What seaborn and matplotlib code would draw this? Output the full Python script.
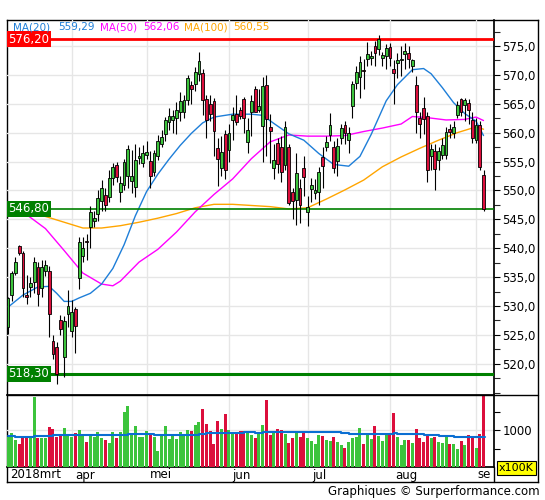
import numpy as np
import pandas as pd
import seaborn as sns
import matplotlib.pyplot as plt
from matplotlib.lines import Line2D
from matplotlib.ticker import FuncFormatter, MultipleLocator, FixedLocator

# daily candles (index 0 = early March 2018)
opens = [526.4, 531.9, 535.7, 540.4, 539.1, 531.9, 533.3, 534.1, 536.8, 533.1,
         536.0, 536.0, 523.9, 522.9, 527.5, 521.2, 528.6, 525.7, 529.5, 534.9,
         538.6, 541.2, 543.7, 544.7, 545.9, 548.2, 549.2, 548.9, 552.1, 554.4,
         549.7, 550.9, 552.5, 551.7, 550.6, 555.6, 554.8, 556.1, 555.1, 553.2,
         556.0, 558.0, 559.8, 561.9, 562.2, 562.6, 563.6, 563.5, 565.6, 568.2,
         568.5, 570.1, 570.4, 565.9, 565.0, 565.5, 557.4, 553.8, 559.7, 557.0,
         562.2, 563.2, 563.9, 565.8, 558.4, 563.6, 567.5, 564.0, 561.2, 568.2,
         561.0, 553.8, 558.2, 557.5, 554.4, 557.5, 549.7, 548.3, 550.4, 553.8,
         546.2, 550.2, 549.5, 549.8, 555.8, 557.6, 559.6, 557.5, 555.1, 559.0,
         561.4, 558.8, 564.6, 568.6, 569.7, 570.9, 572.7, 572.9, 575.0, 574.4,
         572.9, 573.3, 574.9, 571.0, 572.0, 572.5, 573.6, 573.8, 571.5, 568.2,
         562.5, 564.2, 562.9, 556.0, 556.9, 555.2, 556.1, 556.1, 560.6, 560.0,
         563.1, 565.8, 564.8, 565.2, 562.2, 558.8, 561.3, 552.7]
highs = [531.6, 536.0, 538.5, 540.6, 539.5, 535.4, 535.0, 538.5, 537.6, 538.0,
         537.9, 536.9, 525.0, 523.8, 528.5, 528.2, 532.8, 531.0, 529.9, 542.0,
         542.0, 542.5, 547.3, 546.5, 550.0, 551.8, 550.5, 553.5, 554.7, 555.0,
         552.5, 555.5, 557.8, 557.0, 558.0, 557.5, 557.9, 558.6, 556.9, 557.0,
         559.6, 560.5, 562.7, 564.2, 564.0, 565.3, 567.0, 566.5, 569.9, 569.0,
         571.4, 573.9, 571.0, 566.5, 566.5, 566.0, 559.0, 559.5, 560.5, 561.5,
         564.5, 566.5, 564.5, 566.2, 562.5, 566.5, 568.0, 567.5, 569.6, 570.0,
         563.2, 558.0, 559.0, 559.5, 562.0, 558.0, 550.5, 556.5, 552.0, 556.0,
         549.0, 552.2, 552.0, 554.0, 557.5, 559.5, 563.4, 558.5, 559.0, 561.5,
         562.0, 561.0, 569.0, 571.5, 573.2, 572.8, 575.7, 574.1, 575.8, 576.9,
         574.0, 575.3, 575.5, 572.5, 573.8, 575.0, 575.5, 575.0, 572.8, 569.8,
         563.5, 566.2, 563.5, 558.0, 558.0, 557.5, 559.0, 561.0, 561.5, 562.0,
         565.5, 566.0, 566.0, 565.8, 563.5, 562.5, 562.0, 553.5]
lows = [525.2, 530.9, 535.4, 538.8, 531.6, 530.4, 531.5, 532.2, 530.0, 531.6,
        535.2, 524.7, 520.8, 516.5, 525.0, 517.8, 526.4, 524.7, 521.8, 533.0,
        537.7, 538.0, 540.0, 543.6, 544.7, 546.5, 546.5, 548.0, 551.0, 551.5,
        548.0, 550.0, 550.4, 549.5, 548.8, 554.5, 554.0, 555.5, 550.4, 552.5,
        555.2, 557.5, 558.6, 560.5, 560.0, 559.7, 562.0, 562.5, 564.8, 565.0,
        567.2, 569.0, 563.0, 559.0, 562.0, 556.0, 550.7, 552.5, 551.9, 555.0,
        558.7, 561.3, 562.3, 560.0, 556.4, 559.5, 564.5, 563.5, 555.0, 556.0,
        554.8, 552.0, 553.0, 551.5, 553.5, 547.5, 545.0, 544.0, 544.4, 549.0,
        543.9, 548.0, 548.5, 547.5, 550.5, 556.8, 558.5, 553.0, 552.5, 558.0,
        558.0, 556.5, 562.5, 567.5, 566.0, 567.5, 571.5, 571.7, 571.6, 573.5,
        571.5, 571.0, 571.5, 565.0, 569.5, 569.8, 571.0, 571.2, 570.5, 560.0,
        559.0, 559.7, 551.5, 553.5, 550.0, 553.5, 555.5, 555.5, 559.0, 559.0,
        562.5, 562.8, 562.0, 561.5, 558.2, 558.2, 553.5, 546.4]
closes = [531.4, 535.7, 537.6, 539.1, 533.1, 531.5, 534.0, 537.6, 532.1, 536.7,
          537.1, 528.7, 521.7, 518.3, 526.1, 527.4, 530.0, 529.0, 526.5, 541.1,
          540.0, 541.0, 546.2, 545.2, 548.7, 550.5, 547.5, 552.1, 554.1, 552.4,
          551.3, 554.9, 557.2, 552.5, 555.3, 555.9, 556.4, 556.7, 552.5, 556.4,
          558.6, 559.2, 562.2, 562.9, 562.9, 564.0, 565.4, 565.6, 569.4, 567.5,
          570.5, 572.4, 565.6, 562.2, 563.2, 560.3, 555.5, 556.7, 553.5, 559.9,
          563.0, 561.9, 562.8, 562.6, 560.5, 565.5, 563.5, 564.6, 568.1, 562.3,
          560.3, 555.3, 554.5, 553.2, 560.9, 547.8, 548.1, 553.0, 547.5, 552.4,
          547.2, 551.0, 550.1, 553.2, 554.2, 558.4, 561.3, 553.8, 557.7, 560.8,
          559.9, 559.9, 568.5, 570.5, 572.3, 570.6, 573.7, 573.3, 573.8, 576.2,
          573.5, 574.6, 573.0, 570.3, 572.6, 572.8, 574.2, 572.7, 572.6, 563.5,
          561.5, 562.3, 553.5, 557.2, 553.7, 556.9, 557.9, 560.1, 560.1, 561.0,
          564.8, 563.5, 565.6, 563.9, 559.0, 561.3, 554.1, 546.8]
volumes = [810, 918, 729, 621, 837, 837, 801, 1890, 783, 783,
           783, 1080, 1026, 810, 855, 1053, 873, 810, 918, 999,
           855, 675, 891, 810, 945, 783, 729, 648, 945, 783,
           945, 1485, 1647, 918, 1107, 810, 810, 972, 891, 810,
           432, 837, 1107, 756, 837, 756, 945, 891, 999, 972,
           1134, 1215, 1566, 1161, 972, 621, 1242, 1026, 1431, 999,
           918, 945, 972, 963, 963, 864, 783, 918, 1134, 1809,
           864, 963, 1026, 999, 891, 648, 783, 945, 810, 972,
           783, 702, 621, 864, 837, 729, 702, 810, 675, 594,
           513, 675, 783, 810, 1053, 621, 891, 756, 1107, 837,
           702, 918, 891, 1458, 810, 594, 729, 729, 648, 1026,
           783, 675, 837, 783, 810, 675, 648, 837, 621, 621,
           486, 702, 594, 864, 810, 513, 891, 1950]

# moving averages
ma20_x = [0, 4, 8, 11, 13, 15, 17, 19, 22, 25, 28, 31, 34, 37, 40, 43, 46, 49, 52, 55,
          60, 65, 68, 71, 75, 79, 83, 87, 91, 94, 97, 101, 104, 108, 111, 113, 116,
          119, 122, 125, 127]
ma20_y = [529.8, 531.9, 533.3, 533.4, 532.2, 530.8, 530.8, 531.4, 532.2, 533.8, 536.5,
          540.6, 545.6, 549.8, 552.8, 555.4, 557.8, 559.9, 561.7, 562.7, 563.2, 563.2,
          563.0, 561.6, 559.8, 558.7, 556.4, 554.5, 554.2, 555.9, 559.7, 565.5, 568.3,
          570.9, 571.1, 570.2, 567.8, 565.2, 563.3, 562.0, 559.5]
ma50_x = [0, 5, 10, 15, 20, 25, 28, 30, 35, 40, 45, 50, 55, 60, 65, 70, 75, 80, 85, 90,
          95, 100, 105, 108, 112, 117, 122, 125, 127]
ma50_y = [546.7, 545.8, 543.4, 539.6, 535.7, 533.8, 533.5, 534.3, 537.6, 539.8, 542.8,
          546.3, 549.3, 552.0, 555.5, 558.4, 559.6, 559.4, 559.4, 559.5, 560.2, 560.8,
          561.5, 562.8, 562.6, 562.2, 562.3, 562.7, 562.1]
ma100_x = [0, 5, 10, 15, 20, 25, 30, 35, 40, 45, 50, 55, 60, 65, 70, 75, 80, 85, 90, 95,
           100, 105, 110, 115, 120, 125, 127]
ma100_y = [546.6, 546.1, 545.5, 544.5, 543.5, 543.5, 543.9, 544.5, 545.2, 546.0, 547.0,
           547.6, 547.6, 547.4, 547.2, 546.8, 547.0, 548.5, 550.1, 551.8, 554.1, 555.8,
           557.3, 558.7, 560.0, 561.0, 560.6]
vma_x = [0, 2, 7, 12, 32, 39, 51, 53, 63, 66, 68, 89, 91, 103, 104, 111, 115, 119, 127.5]
vma_y = [828, 801, 828, 855, 882, 855, 882, 909, 936, 909, 936, 909, 882, 909, 882, 855,
         828, 810, 810]

month_labels = ["2018mrt", "apr", "mei", "jun", "jul", "aug", "se"]
month_start = [17, 37, 59, 80, 102, 125]
level_hi = 576.20
level_last = 546.80
level_lo = 518.30

GREEN = "#3cc43c"
RED = "#dc0f3c"

df = pd.DataFrame({"o": opens, "h": highs, "l": lows, "c": closes, "v": volumes})
df["i"] = np.arange(len(df))
df["dir"] = np.where(df["c"] >= df["o"], "up", "down")
df["col"] = np.where(df["dir"] == "up", GREEN, RED)

sns.set_theme(style="white")
plt.rcParams["font.family"] = ["DejaVu Sans"]

W, H = 545, 500
fig = plt.figure(figsize=(W / 100, H / 100), dpi=100)


def fx(px):
    return px / W


def fy(py):
    return 1 - py / H


# outer frame
frame = fig.add_axes([fx(7), fy(482), fx(531), 462 / H])
frame.set_xticks([])
frame.set_yticks([])
for s in frame.spines.values():
    s.set_color("black")
    s.set_linewidth(1)
frame.spines["top"].set_linestyle((0, (2, 1)))

# price panel
ax = fig.add_axes([fx(7), fy(395), fx(487), 375 / H])
ax.patch.set_alpha(0)
ax.set_xlim(-0.27, 129.8)
ax.set_ylim(514.6, 579.5)
ax.xaxis.set_major_locator(FixedLocator(month_start))
ax.set_xticklabels([])
ax.yaxis.set_major_locator(FixedLocator(np.arange(520, 576, 5)))
ax.yaxis.set_minor_locator(MultipleLocator(2.5))
ax.grid(True, which="major", color="#e6e6e6", lw=1)
ax.set_axisbelow(True)
ax.yaxis.tick_right()
ax.yaxis.set_major_formatter(FuncFormatter(lambda v, p: f"{v:.1f}".replace(".", ",")))
ax.tick_params(axis="y", which="major", direction="out", length=4, width=0.8,
               labelsize=8.5, pad=2, colors="black")
ax.tick_params(axis="y", which="minor", direction="out", length=4, width=0.8)
ax.tick_params(axis="x", length=0)
for side in ["left", "top"]:
    ax.spines[side].set_visible(False)
ax.spines["right"].set_color("black")
ax.spines["bottom"].set_color("black")

# moving averages
sns.lineplot(x=ma100_x, y=ma100_y, ax=ax, color="#ffa500", lw=1, sort=False, estimator=None)
sns.lineplot(x=ma50_x, y=ma50_y, ax=ax, color="#ff00ff", lw=1, sort=False, estimator=None)
sns.lineplot(x=ma20_x, y=ma20_y, ax=ax, color="#1e7ed8", lw=1, sort=False, estimator=None)

# level lines
ax.axhline(level_hi, color="#ff0000", lw=2, zorder=3)
ax.axhline(level_last, color="#008000", lw=1.2, zorder=3)
ax.axhline(level_lo, color="#008000", lw=2.2, zorder=3)

# candles
ax.vlines(df["i"], df["l"], df["h"], color="black", lw=0.8, zorder=4)
body_lo = df[["o", "c"]].min(axis=1)
body_h = (df["c"] - df["o"]).abs().clip(lower=0.25)
ax.bar(df["i"], body_h, bottom=body_lo, width=0.75, color=df["col"],
       edgecolor="black", linewidth=0.6, zorder=5)

lbl = ax.get_yaxis_transform()
for val, col in [(level_hi, "#ff0000"), (level_last, "#008000"), (level_lo, "#008000")]:
    ax.text(0.003, val, f"{val:.2f}".replace(".", ","), transform=lbl, color="white",
            fontsize=8.5, ha="left", va="center", zorder=7,
            bbox=dict(boxstyle="square,pad=0.12", fc=col, ec="none"))

# volume panel
vax = fig.add_axes([fx(7), fy(467), fx(487), 72 / H])
vax.patch.set_alpha(0)
vax.bar(df["i"], df["v"], width=0.8, color=df["col"], linewidth=0, zorder=3,
        antialiased=False)
sns.lineplot(x=vma_x, y=vma_y, ax=vax, color="#0a6ed2", lw=1.5, drawstyle="steps-post",
             sort=False, estimator=None, zorder=4)
vax.set_xlim(-0.27, 129.8)
vax.set_ylim(0, 1946)
vax.set_xlabel("")
vax.set_ylabel("")
vax.xaxis.set_major_locator(FixedLocator(month_start))
vax.set_xticklabels([])
vax.yaxis.set_major_locator(FixedLocator([1000]))
vax.yaxis.set_minor_locator(FixedLocator([500, 1500]))
vax.grid(True, which="major", color="#e6e6e6", lw=1)
vax.set_axisbelow(True)
vax.yaxis.tick_right()
vax.tick_params(axis="y", which="both", direction="out", length=4, width=0.8,
                labelsize=8.5, pad=2, colors="black")
vax.tick_params(axis="x", length=0)
for side in ["left", "top"]:
    vax.spines[side].set_visible(False)
vax.spines["right"].set_color("black")
vax.spines["bottom"].set_color("black")

# separator and right rule
fig.add_artist(Line2D([fx(7), fx(538)], [fy(395), fy(395)], color="black", lw=1))
fig.add_artist(Line2D([fx(494), fx(494)], [fy(467), fy(482)], color="black", lw=1))

# month labels
date_x = [10, 75, 150, 232, 312, 395, 477]
for px, t in zip(date_x, month_labels):
    fig.text(fx(px), fy(475), t, fontsize=8.5, ha="left", va="center", color="black")

fig.text(fx(499), fy(468), "x100K", fontsize=8, ha="left", va="center", color="black",
         bbox=dict(boxstyle="square,pad=0.15", fc="#ffff00", ec="black", lw=0.8))

# legend line
leg = [(13, "MA(20)", "#1e7ed8"), (58, "559,29", "#1e7ed8"),
       (100, "MA(50)", "#ff00ff"), (143, "562,06", "#ff00ff"),
       (184, "MA(100)", "#ffa500"), (233, "560,55", "#ffa500")]
for px, t, c in leg:
    fig.text(fx(px), fy(27), t, fontsize=7.5, ha="left", va="center", color=c)

fig.text(fx(540), fy(492), "Graphiques \u00a9 Surperformance.com", fontsize=8.5,
         ha="right", va="center", color="black")

fig.savefig("out.png", dpi=100)
